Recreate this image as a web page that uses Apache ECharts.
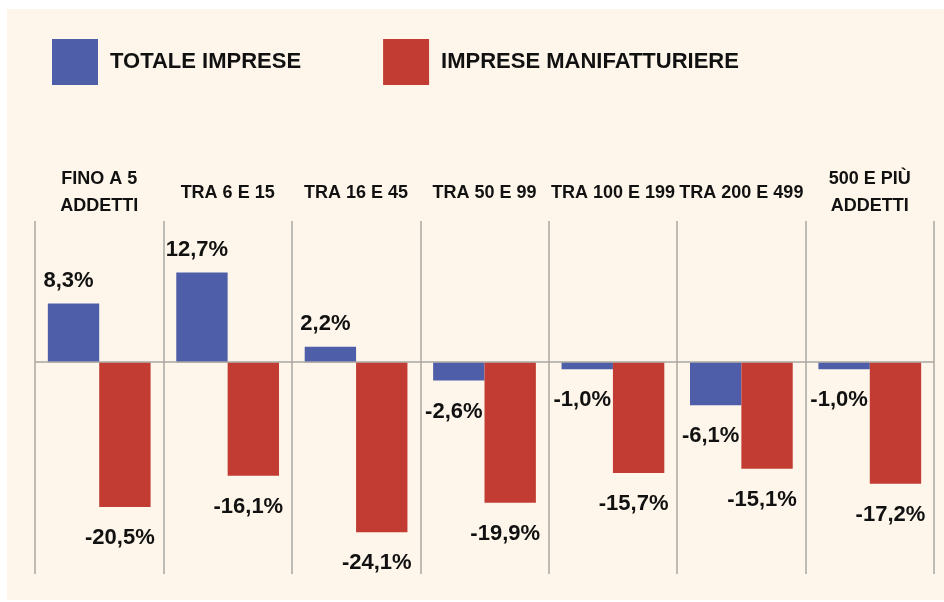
<!DOCTYPE html>
<html>
<head>
<meta charset="utf-8">
<script src="https://cdn.jsdelivr.net/npm/echarts@6/dist/echarts.min.js"></script>
<style>
  html, body { margin: 0; padding: 0; background: #ffffff; }
  #main { position: absolute; left: 7px; top: 9px; width: 937px; height: 591px; }
</style>
</head>
<body>
<div id="main"></div>
<script>
var categories = ['FINO A 5\nADDETTI', 'TRA 6 E 15', 'TRA 16 E 45', 'TRA 50 E 99', 'TRA 100 E 199', 'TRA 200 E 499', '500 E PIÙ\nADDETTI'];
var totaleImprese = [8.3, 12.7, 2.2, -2.6, -1.0, -6.1, -1.0];
var impreseManif = [-20.5, -16.1, -24.1, -19.9, -15.7, -15.1, -17.2];

var myChart = echarts.init(document.getElementById('main'));

function fmt(p) {
    return p.value.toFixed(1).replace('.', ',') + '%';
}

// etichetta sopra o sotto a seconda del segno
function withLabels(values) {
    return values.map(function (v) {
        return {
            value: v,
            label: { position: v >= 0 ? 'top' : 'bottom', distance: v >= 0 ? 12 : 20 }
        };
    });
}

var labelStyle = {
    show: true,
    formatter: fmt,
    fontFamily: 'Liberation Sans',
    fontWeight: 'bold',
    fontSize: 22,
    color: '#111',
    offset: [-5, 0]
};

var option = {
    backgroundColor: '#fef6ea',
    animation: false,
    legend: {
        left: 40,
        top: 25,
        itemWidth: 46,
        itemHeight: 46,
        itemGap: 82,
        icon: 'rect',
        textStyle: {
            fontFamily: 'Liberation Sans',
            fontWeight: 'bold',
            fontSize: 22,
            color: '#111',
            padding: [0, 0, 0, 7]
        },
        data: ['TOTALE IMPRESE', 'IMPRESE MANIFATTURIERE']
    },
    grid: {
        left: 28,
        right: 10,
        top: 212,
        bottom: 26
    },
    xAxis: {
        type: 'category',
        position: 'top',
        data: categories,
        axisLine: { show: false, onZero: false },
        axisTick: { show: false },
        axisLabel: {
            interval: 0,
            margin: 28,
            verticalAlign: 'middle',
            fontFamily: 'Liberation Sans',
            fontWeight: 'bold',
            fontSize: 18,
            lineHeight: 27,
            color: '#111'
        },
        splitLine: {
            show: true,
            interval: 0,
            lineStyle: { color: '#a9a6a2', width: 1.5 }
        }
    },
    yAxis: {
        type: 'value',
        min: -30,
        max: 20,
        interval: 10,
        show: false,
        splitLine: { show: false }
    },
    series: [
        {
            name: 'TOTALE IMPRESE',
            type: 'bar',
            barWidth: '40%',
            barGap: '0%',
            itemStyle: { color: '#4e5ea9' },
            label: labelStyle,
            data: withLabels(totaleImprese),
            markLine: {
                silent: true,
                symbol: 'none',
                label: { show: false },
                lineStyle: { color: '#a9a6a2', width: 1.5, type: 'solid' },
                data: [{ yAxis: 0 }]
            }
        },
        {
            name: 'IMPRESE MANIFATTURIERE',
            type: 'bar',
            barWidth: '40%',
            barGap: '0%',
            itemStyle: { color: '#c23c33' },
            label: labelStyle,
            data: withLabels(impreseManif)
        }
    ]
};

myChart.setOption(option);
</script>
</body>
</html>
